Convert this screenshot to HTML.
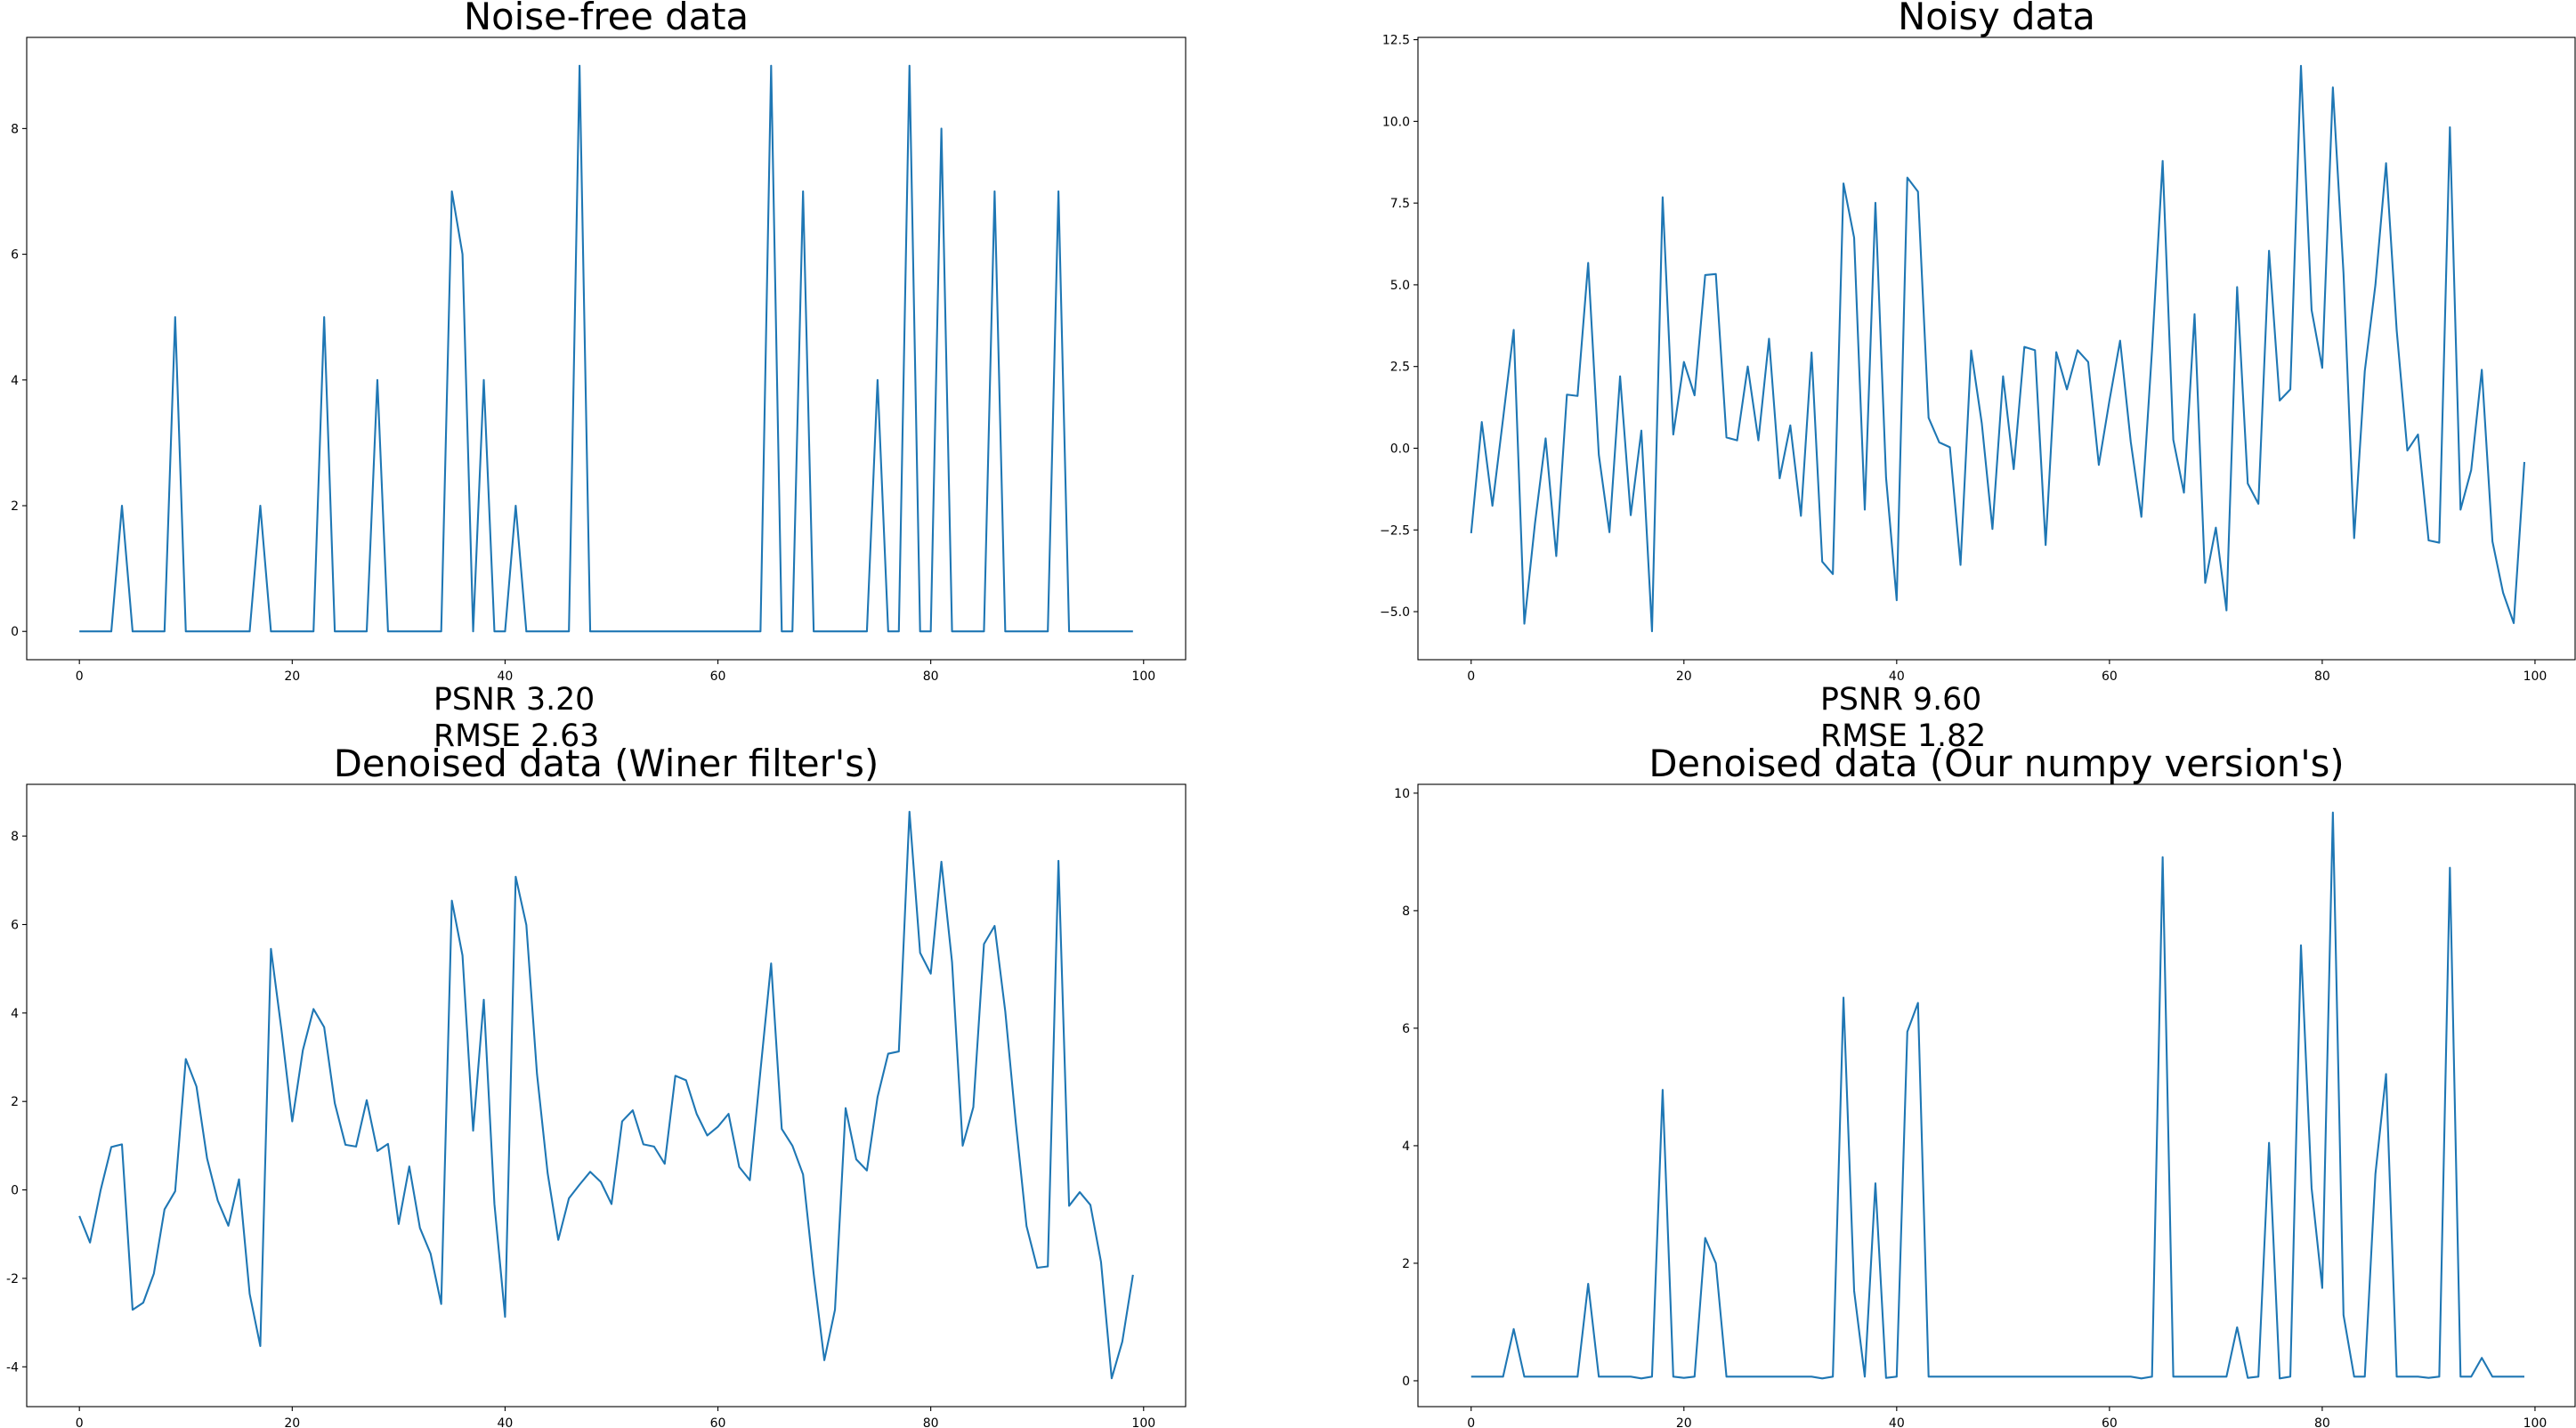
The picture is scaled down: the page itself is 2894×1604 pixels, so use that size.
<!DOCTYPE html>
<html><head><meta charset="utf-8"><style>
html,body{margin:0;padding:0;background:#fff;}
svg{display:block;font-family:"DejaVu Sans","Liberation Sans",sans-serif;}
</style></head><body>
<svg id="fig" width="2894" height="1604" xmlns="http://www.w3.org/2000/svg"></svg>
<script>
const xTicks=[0,20,40,60,80,100];
const cleanData=[0,0,0,0,2,0,0,0,0,5,0,0,0,0,0,0,0,2,0,0,0,0,0,5,0,0,0,0,4,0,0,0,0,0,0,7,6,0,4,0,0,2,0,0,0,0,0,9,0,0,0,0,0,0,0,0,0,0,0,0,0,0,0,0,0,9,0,0,7,0,0,0,0,0,0,4,0,0,9,0,0,8,0,0,0,0,7,0,0,0,0,0,7,0,0,0,0,0,0,0];
const noisyData=[-2.6,0.8,-1.76,0.9,3.62,-5.37,-2.3,0.3,-3.3,1.64,1.6,5.67,-0.2,-2.57,2.2,-2.05,0.54,-5.6,7.68,0.42,2.64,1.62,5.3,5.33,0.33,0.24,2.5,0.24,3.35,-0.92,0.7,-2.07,2.93,-3.47,-3.85,8.1,6.44,-1.88,7.51,-0.9,-4.65,8.28,7.85,0.93,0.18,0.03,-3.57,2.99,0.76,-2.47,2.2,-0.64,3.1,3.0,-2.96,2.94,1.8,3.0,2.64,-0.51,1.46,3.29,0.2,-2.1,3.0,8.79,0.26,-1.36,4.1,-4.12,-2.43,-4.96,4.93,-1.08,-1.7,6.04,1.46,1.8,11.7,4.23,2.46,11.04,5.35,-2.75,2.36,5.0,8.72,3.6,-0.07,0.42,-2.82,-2.89,9.82,-1.88,-0.67,2.4,-2.85,-4.42,-5.35,-0.42];
const wienerData=[-0.59,-1.19,0.0,0.97,1.03,-2.71,-2.55,-1.89,-0.44,-0.03,2.96,2.34,0.71,-0.24,-0.81,0.24,-2.35,-3.53,5.45,3.6,1.55,3.16,4.09,3.68,1.96,1.02,0.98,2.03,0.88,1.04,-0.77,0.53,-0.86,-1.44,-2.58,6.54,5.3,1.34,4.3,-0.32,-2.87,7.08,5.99,2.62,0.38,-1.13,-0.19,0.12,0.41,0.18,-0.32,1.55,1.8,1.03,0.98,0.59,2.58,2.48,1.72,1.23,1.43,1.72,0.52,0.22,2.7,5.12,1.38,1.0,0.35,-1.9,-3.85,-2.71,1.85,0.69,0.44,2.1,3.08,3.13,8.55,5.36,4.89,7.42,5.15,1.0,1.87,5.56,5.97,4.04,1.5,-0.82,-1.76,-1.73,7.44,-0.36,-0.05,-0.34,-1.63,-4.26,-3.43,-1.92];
const ourData=[0.07,0.07,0.07,0.07,0.88,0.07,0.07,0.07,0.07,0.07,0.07,1.65,0.07,0.07,0.07,0.07,0.04,0.07,4.95,0.07,0.05,0.07,2.43,2.0,0.07,0.07,0.07,0.07,0.07,0.07,0.07,0.07,0.07,0.04,0.07,6.52,1.53,0.07,3.36,0.05,0.07,5.94,6.43,0.07,0.07,0.07,0.07,0.07,0.07,0.07,0.07,0.07,0.07,0.07,0.07,0.07,0.07,0.07,0.07,0.07,0.07,0.07,0.07,0.04,0.07,8.91,0.07,0.07,0.07,0.07,0.07,0.07,0.91,0.05,0.07,4.05,0.04,0.07,7.41,3.28,1.58,9.67,1.12,0.07,0.07,3.52,5.22,0.07,0.07,0.07,0.05,0.07,8.73,0.07,0.07,0.39,0.07,0.07,0.07,0.07];
const yTicks1=[0,2,4,6,8];
const yTicks2=[-5,-2.5,0,2.5,5,7.5,10,12.5];
const yTicksLabels2=["\u22125.0","\u22122.5","0.0","2.5","5.0","7.5","10.0","12.5"];
const yTicks3=[-4,-2,0,2,4,6,8];
const yTicks4=[0,2,4,6,8,10];
const titles=["Noise-free data","Noisy data","Denoised data (Winer filter's)","Denoised data (Our numpy version's)"];
const metricLabels=["PSNR 3.20","RMSE 2.63","PSNR 9.60","RMSE 1.82"];

const NS="http://www.w3.org/2000/svg";
const fig=document.getElementById('fig');
function mk(tag,attrs,parent){const e=document.createElementNS(NS,tag);for(const k in attrs)e.setAttribute(k,attrs[k]);(parent||fig).appendChild(e);return e;}

function panel(name,box,xlim,ylim,data,yt,ytl,title){
  const g=mk('g',{});
  
  
  const sx=v=>box.l+(v-xlim[0])/(xlim[1]-xlim[0])*(box.r-box.l);
  const sy=v=>box.b-(v-ylim[0])/(ylim[1]-ylim[0])*(box.b-box.t);
  let d='';
  data.forEach((v,i)=>{d+=(i?'L':'M')+sx(i).toFixed(2)+' '+sy(v).toFixed(2);});
  const line=mk('path',{d:d,fill:'none',stroke:'#1f77b4','stroke-width':2.1,'stroke-linejoin':'round'},g);
  
  
  const frame=mk('rect',{x:box.l,y:box.t,width:box.r-box.l,height:box.b-box.t,fill:'none',stroke:'#000','stroke-width':1.1},g);
  
  
  xTicks.forEach(t=>{
    const x=sx(t);
    mk('line',{x1:x,x2:x,y1:box.b,y2:box.b+5,stroke:'#000','stroke-width':1.1},g);
    const tx=mk('text',{x:x,y:box.b+23,'font-size':14,'text-anchor':'middle',fill:'#000'},g);
    tx.textContent=String(t);
    
    
  });
  yt.forEach((t,i)=>{
    const y=sy(t);
    mk('line',{x1:box.l-5,x2:box.l,y1:y,y2:y,stroke:'#000','stroke-width':1.1},g);
    const tx=mk('text',{x:box.l-9,y:y+5,'font-size':14,'text-anchor':'end',fill:'#000'},g);
    tx.textContent=ytl?ytl[i]:String(t);
    
    
  });
  const tt=mk('text',{x:(box.l+box.r)/2,y:box.t-9,'font-size':41.7,'text-anchor':'middle',fill:'#000'},g);
  tt.textContent=title;
  
  
}

panel('noise-free-panel',{l:30,r:1332,t:42,b:741},[-4.95,103.95],[-0.45,9.45],cleanData,yTicks1,null,titles[0]);
panel('noisy-panel',{l:1593,r:2893,t:42,b:741},[-5,103.77],[-6.47,12.57],noisyData,yTicks2,yTicksLabels2,titles[1]);
panel('wiener-panel',{l:30,r:1332,t:881,b:1580},[-4.95,103.95],[-4.9,9.17],wienerData,yTicks3,null,titles[2]);
panel('numpy-panel',{l:1593,r:2893,t:881,b:1580},[-5,103.77],[-0.44,10.15],ourData,yTicks4,null,titles[3]);

[[487,797,0,'psnr-wiener'],[487,838,1,'rmse-wiener'],[2045,797,2,'psnr-numpy'],[2045,838,3,'rmse-numpy']].forEach(p=>{
  const t=mk('text',{x:p[0],y:p[1],'font-size':34.7,fill:'#000'});
  t.textContent=metricLabels[p[2]];
  
  
});
</script>
</body></html>
